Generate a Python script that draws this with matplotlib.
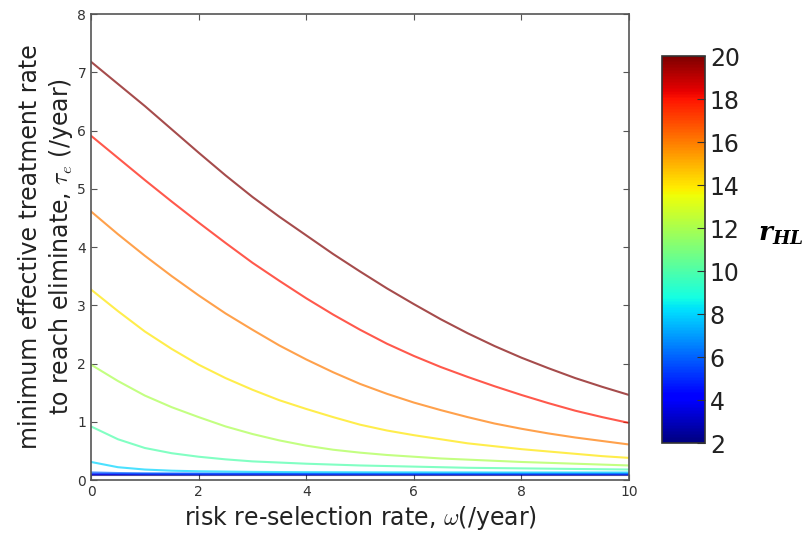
import numpy as np
import matplotlib
matplotlib.use('Agg')
from matplotlib import pyplot as plt
from matplotlib import cm, colors

# risk re-selection rate (x grid) and threshold curves for each r_HL
omega = [0, 0.5, 1, 1.5, 2, 2.5, 3, 3.5, 4, 4.5, 5, 5.5, 6, 6.5, 7, 7.5, 8, 8.5, 9, 9.5, 10]
r_hl = [2, 4, 6, 8, 10, 12, 14, 16, 18, 20]
tau_e = {
    20: [7.18, 6.80, 6.42, 6.02, 5.62, 5.23, 4.86, 4.52, 4.20, 3.88, 3.58, 3.29, 3.02,
         2.76, 2.52, 2.30, 2.10, 1.92, 1.75, 1.60, 1.46],
    18: [5.91, 5.53, 5.15, 4.78, 4.42, 4.07, 3.73, 3.42, 3.12, 2.84, 2.58, 2.34, 2.13,
         1.94, 1.77, 1.61, 1.46, 1.32, 1.19, 1.08, 0.98],
    16: [4.61, 4.22, 3.85, 3.50, 3.17, 2.86, 2.58, 2.31, 2.07, 1.85, 1.65, 1.48, 1.33,
         1.20, 1.08, 0.97, 0.88, 0.80, 0.73, 0.67, 0.61],
    14: [3.27, 2.90, 2.55, 2.25, 1.98, 1.75, 1.55, 1.37, 1.22, 1.08, 0.95, 0.85, 0.77,
         0.70, 0.63, 0.58, 0.53, 0.49, 0.45, 0.41, 0.38],
    12: [1.98, 1.70, 1.45, 1.25, 1.08, 0.92, 0.79, 0.68, 0.59, 0.52, 0.47, 0.43, 0.40,
         0.37, 0.35, 0.33, 0.31, 0.295, 0.28, 0.265, 0.25],
    10: [0.92, 0.70, 0.55, 0.46, 0.40, 0.355, 0.32, 0.30, 0.28, 0.265, 0.25, 0.24, 0.23,
         0.22, 0.21, 0.205, 0.20, 0.195, 0.19, 0.185, 0.18],
    8: [0.31, 0.22, 0.18, 0.16, 0.15, 0.145, 0.14, 0.137, 0.135, 0.134, 0.133, 0.132,
        0.132, 0.131, 0.131, 0.13, 0.13, 0.13, 0.13, 0.13, 0.13],
    6: [0.13, 0.12, 0.115, 0.113, 0.112, 0.111, 0.111, 0.11, 0.11, 0.11, 0.11, 0.11,
        0.11, 0.11, 0.11, 0.11, 0.11, 0.11, 0.11, 0.11, 0.11],
    4: [0.10, 0.10, 0.10, 0.10, 0.10, 0.10, 0.10, 0.10, 0.10, 0.10, 0.10, 0.10,
        0.10, 0.10, 0.10, 0.10, 0.10, 0.10, 0.10, 0.10, 0.10],
    2: [0.09, 0.09, 0.09, 0.09, 0.09, 0.09, 0.09, 0.09, 0.09, 0.09, 0.09, 0.09,
        0.09, 0.09, 0.09, 0.09, 0.09, 0.09, 0.09, 0.09, 0.09],
}

plt.rcParams['xtick.direction'] = 'in'
plt.rcParams['ytick.direction'] = 'in'
plt.rcParams['mathtext.fontset'] = 'cm'

fig = plt.figure(figsize=(8.07, 5.37), dpi=100)
ax = fig.add_axes([0.1128, 0.1061, 0.6667, 0.8678])

norm = colors.Normalize(vmin=2, vmax=20)
cmap = matplotlib.colormaps['jet']

for r in r_hl:
    ax.plot(omega, tau_e[r], color=cmap(norm(r)), alpha=0.7, lw=1.5)

ax.set_xlim(0, 10)
ax.set_ylim(0, 8)
ax.set_xticks([0, 2, 4, 6, 8, 10])
ax.tick_params(axis='both', which='major', labelsize=10, labelcolor='#333333',
               top=True, right=True, length=4, color='#555555')
for s in ax.spines.values():
    s.set_color('#555555')
    s.set_linewidth(1.2)

ax.set_xlabel(r'risk re-selection rate, $\omega$(/year)', fontsize=17, color='#222222',
              labelpad=4)
ax.set_ylabel('minimum effective treatment rate\nto reach eliminate, $\\tau_e$ (/year)',
              fontsize=17, color='#222222', labelpad=2)

# colorbar
cax = fig.add_axes([0.8203, 0.175, 0.0533, 0.7207])
sm = cm.ScalarMappable(norm=norm, cmap=cmap)
cb = fig.colorbar(sm, cax=cax, ticks=[2, 4, 6, 8, 10, 12, 14, 16, 18, 20])
cb.ax.tick_params(labelsize=17, labelcolor='#222222', direction='in', length=6,
                  color='#333333')
cb.outline.set_edgecolor('#333333')
cb.outline.set_linewidth(1.2)

fig.text(0.968, 0.565, r'$\mathbfit{r_{HL}}$', fontsize=19, math_fontfamily='dejavuserif',
         ha='center', va='center')

plt.savefig('out.png', dpi=100)
